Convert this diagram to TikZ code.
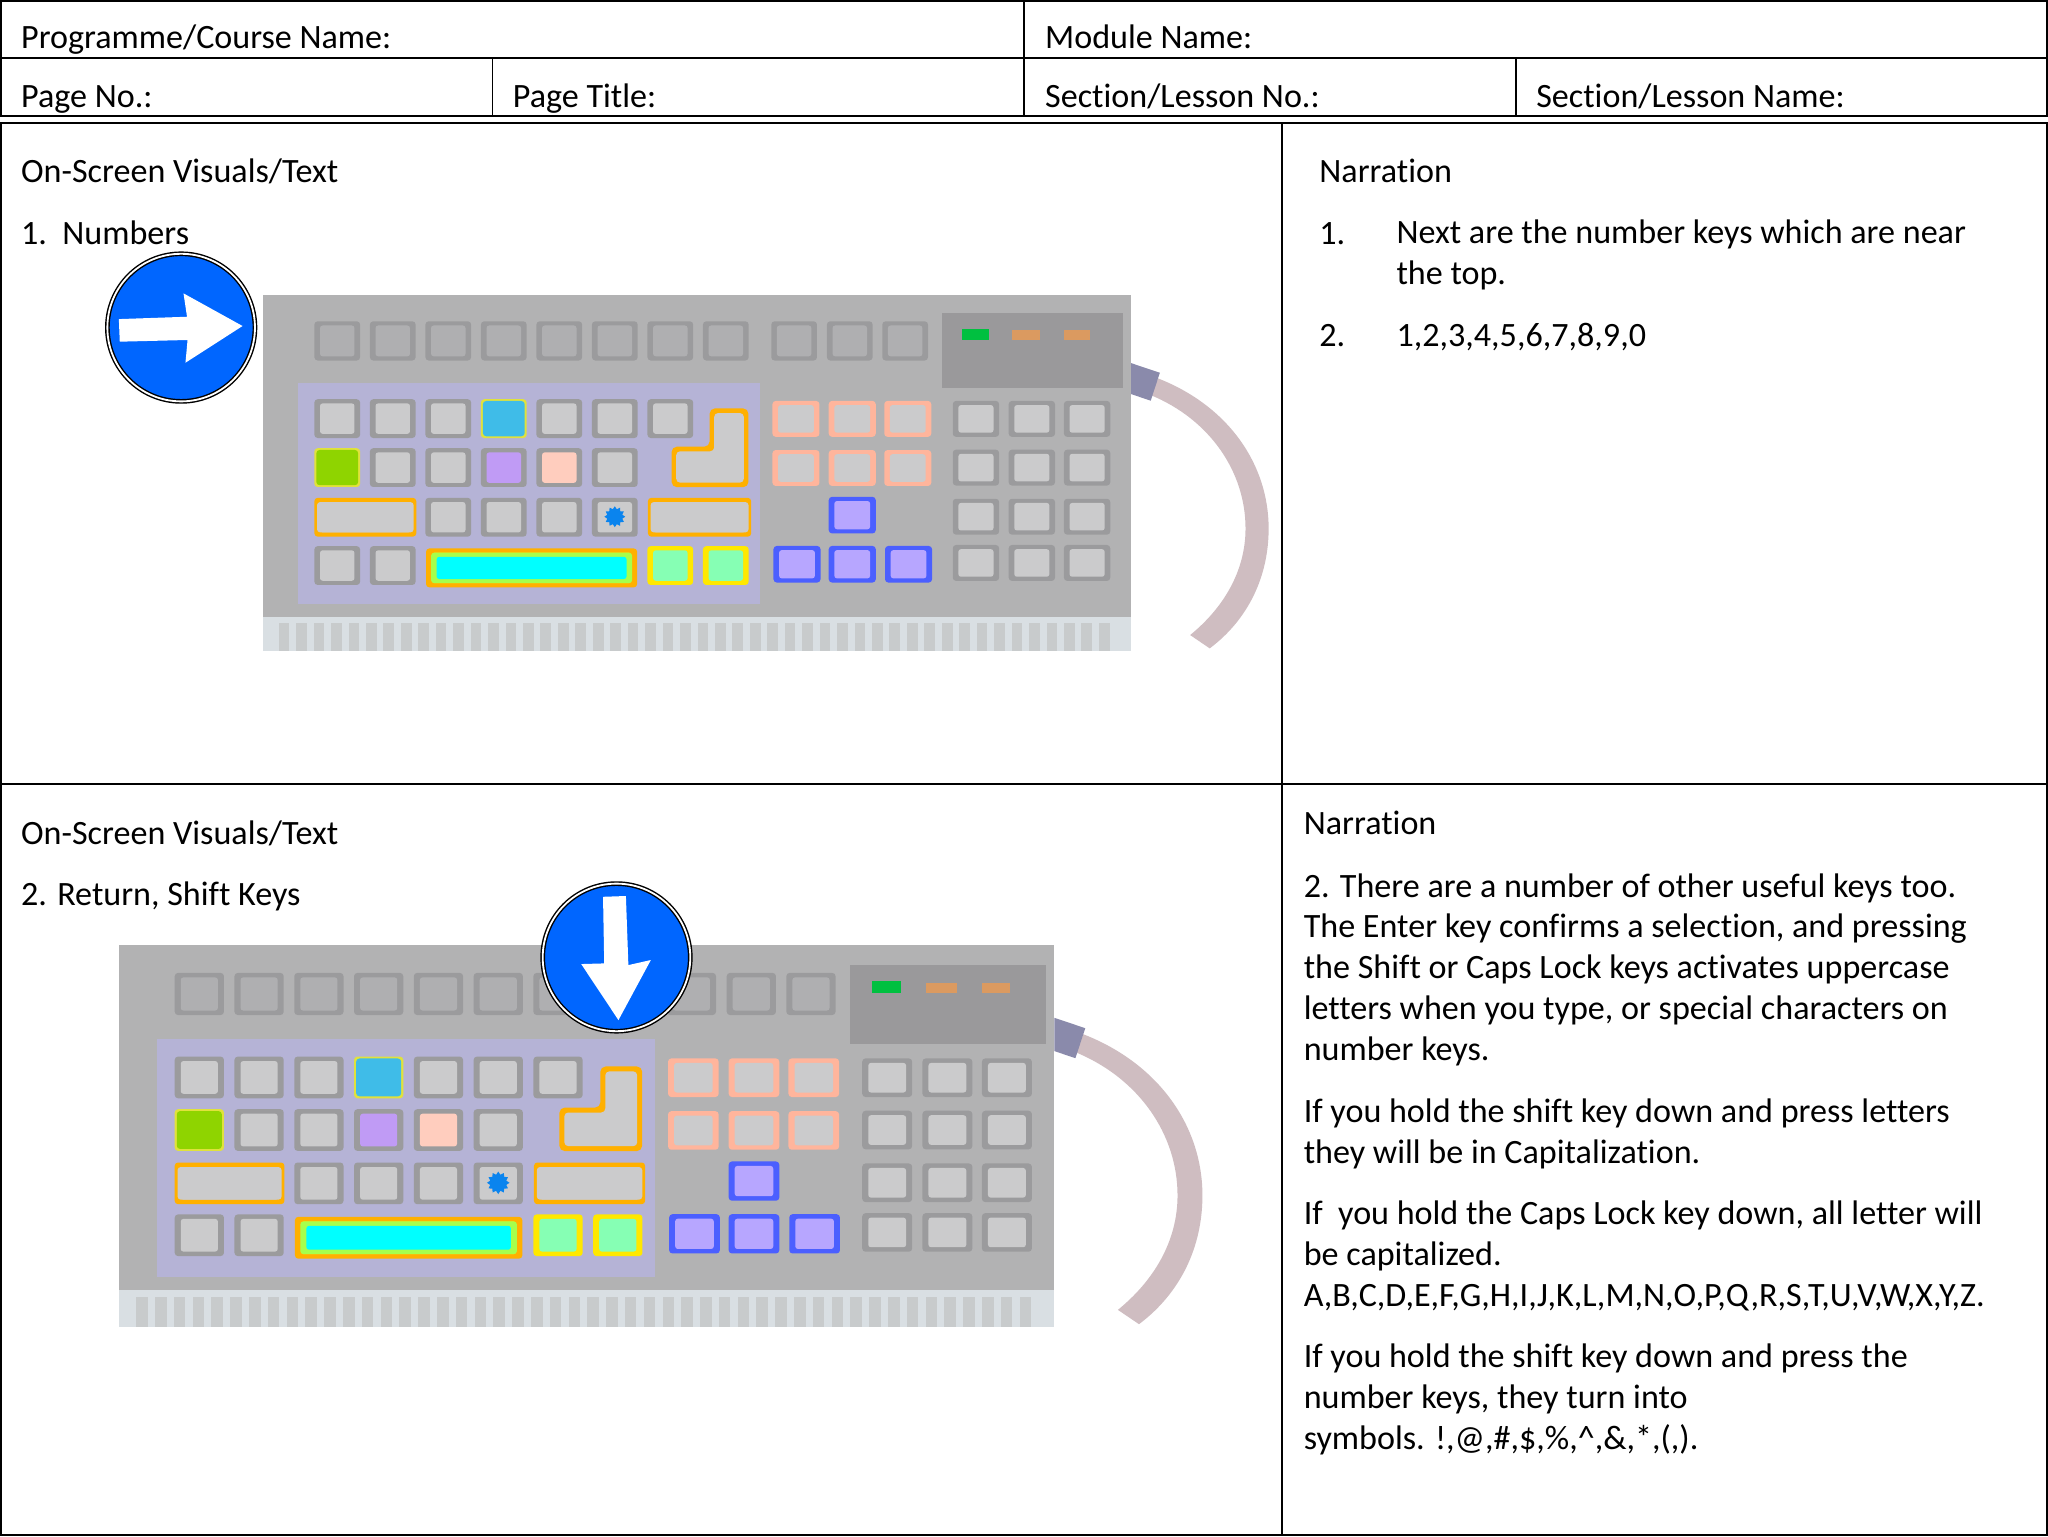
\documentclass[tikz,border=0pt]{standalone}
\usepackage{fontspec}
\setmainfont{Carlito}[Ligatures=CommonOff]
\usetikzlibrary{shapes.geometric}
\definecolor{bodygrey}{HTML}{B2B2B3}
\definecolor{stripgrey}{HTML}{D9DFE3}
\definecolor{tinegrey}{HTML}{C8CBCC}
\definecolor{panelblue}{HTML}{B5B3D6}
\definecolor{rimgrey}{HTML}{9B9B9D}
\definecolor{facegrey}{HTML}{CBCBCC}
\definecolor{topface}{HTML}{AFAFB1}
\definecolor{ledbox}{HTML}{9A999B}
\definecolor{ledgreen}{HTML}{00C040}
\definecolor{ledorange}{HTML}{DB9A60}
\definecolor{rimorange}{HTML}{FFB000}
\definecolor{rimyellow}{HTML}{FFE800}
\definecolor{rimlime}{HTML}{E0E23C}
\definecolor{rimpeach}{HTML}{FFB59C}
\definecolor{rimblue}{HTML}{4B5FFF}
\definecolor{faceblue}{HTML}{3FBCE8}
\definecolor{facegreen}{HTML}{8FD400}
\definecolor{facelilac}{HTML}{C09BF5}
\definecolor{facepeach}{HTML}{FFCDBE}
\definecolor{facemint}{HTML}{86FFB4}
\definecolor{facepurple}{HTML}{B7A6FF}
\definecolor{facecyan}{HTML}{00FFFF}
\definecolor{glowgreen}{HTML}{A6FF4C}
\definecolor{starblue}{HTML}{0A84EE}
\definecolor{cablepink}{HTML}{CFBDC1}
\definecolor{plugblue}{HTML}{8A8AAB}
\definecolor{signblue}{HTML}{0066FF}
\tikzset{
	rule/.style={draw=black, line width=1.4pt},
	label/.style={anchor=base west, inner sep=0pt, align=left, font=\fontsize{26.1}{31.3}\selectfont},
	signdisc/.style={circle, fill=signblue, draw=black, double=white, double distance=1.4pt, line width=1.1pt, minimum size=113pt, inner sep=0pt},
	signarrow/.style={fill=white},
	keyspark/.style={star, star points=12, star point ratio=1.35, fill=starblue, inner sep=0pt, minimum size=16pt, transform shape}
}
% centre x, centre y, width, height, rim, face
\newcommand{\keycap}[6]{
	\fill[#5, rounded corners=2.5pt] (#1-#3/2,#2-#4/2) rectangle (#1+#3/2,#2+#4/2);
	\fill[#6, rounded corners=2pt] (#1-#3/2+4.3,#2-#4/2+3.2) rectangle (#1+#3/2-4.3,#2+#4/2-3.2);
}
% drawn at its own origin, top left corner of the case
\newcommand{\keyboard}{
	\fill[cablepink] (685.6,63.7) .. controls (740,85) and (770.3,130) .. (770.3,178.6)
		.. controls (770.3,215) and (755,248) .. (725.2,270.4) -- (710.2,260.2)
		.. controls (735,240) and (752.6,212) .. (752.6,178.6)
		.. controls (752.6,135) and (725,95) .. (680,76.5) -- cycle;
	\fill[plugblue] (665,52) -- (687,59.4) -- (680,80.8) -- (665,75.7) -- cycle;
	\fill[bodygrey] (0,0) rectangle (665,246);
	\fill[stripgrey] (0,246) rectangle (665,272.5);
	\foreach \i in {0,...,47}
		\fill[tinegrey] (12.4+\i*13.36,251) rectangle (20.6+\i*13.36,272.5);
	\fill[panelblue] (27,67) rectangle (381,236.5);
	\fill[ledbox] (520,14) rectangle (659,71);
	\fill[ledgreen] (535.6,26) rectangle (556,34.4);
	\fill[ledorange] (574,27) rectangle (595.5,34.4);
	\fill[ledorange] (613.7,27) rectangle (633.7,34.4);
	% function row
	\foreach \x in {57.2,99.7,142.2,184.7,227.2,269.7,312.2,354.7,407,449.6,492}
		\keycap{\x}{35}{35}{30}{rimgrey}{topface};
	% main block
	\foreach \x in {57.2,99.7,142.2,227.2,269.7,312.2}
		\keycap{\x}{94.5}{35}{29.7}{rimgrey}{facegrey};
	\keycap{184.7}{94.5}{35}{29.7}{rimlime}{faceblue};
	\keycap{184.7}{94.5}{32}{27}{faceblue}{faceblue};
	\keycap{57.2}{132}{35}{29.7}{rimlime}{facegreen};
	\keycap{57.2}{132}{32}{27}{facegreen}{facegreen};
	\foreach \x in {99.7,142.2,269.7}
		\keycap{\x}{132}{35}{29.7}{rimgrey}{facegrey};
	\keycap{184.7}{132}{35}{29.7}{rimgrey}{facelilac};
	\keycap{227.2}{132}{35}{29.7}{rimgrey}{facepeach};
	\foreach \x in {142.2,184.7,227.2,269.7}
		\keycap{\x}{170}{35}{29.7}{rimgrey}{facegrey};
	\node[keyspark] (spark) at (269.7,169.6) {};
	\keycap{78.7}{170}{78}{29.7}{rimorange}{facegrey};
	\keycap{78.7}{170}{74}{23.3}{facegrey}{facegrey};
	\keycap{334.6}{170}{79}{29.7}{rimorange}{facegrey};
	\keycap{334.6}{170}{75}{23.3}{facegrey}{facegrey};
	\foreach \x in {57.2,99.7}
		\keycap{\x}{207}{35}{29.7}{rimgrey}{facegrey};
	\keycap{206}{208.8}{161.6}{29.8}{rimorange}{rimyellow};
	\keycap{206}{208.8}{154}{23.4}{glowgreen}{facecyan};
	\foreach \x in {312.2,354.7}
		\keycap{\x}{207}{35}{29.7}{rimyellow}{facemint};
	% return key
	\fill[rimorange, rounded corners=4pt] (342.3,86.7) -- (372,86.7) -- (372,147) -- (313.2,147) -- (313.2,116) -- (342.3,116) -- cycle;
	\fill[facegrey, rounded corners=3pt] (345.8,90.2) -- (368.5,90.2) -- (368.5,143.5) -- (316.7,143.5) -- (316.7,119.5) -- (345.8,119.5) -- cycle;
	% cursor block
	\foreach \y in {94.7,132.3}
		\foreach \x in {408.4,451.5,494}
			\keycap{\x}{\y}{36}{27.5}{rimpeach}{facegrey};
	\keycap{451.5}{168.4}{36}{28}{rimblue}{facepurple};
	\foreach \x in {409.2,451.5,494.6}
		\keycap{\x}{206}{36}{28}{rimblue}{facepurple};
	% number pad
	\foreach \y in {94.7,132,169.6,205}
		\foreach \x in {546.2,589,631.3}
			\keycap{\x}{\y}{35.5}{27.5}{rimgrey}{facegrey};
}

\begin{document}
\begin{tikzpicture}[x=1pt,y=-1pt]
	\useasboundingbox (0,0) rectangle (1568,1176);
	\fill[white] (0,0) rectangle (1568,1176);

	\begin{scope}[shift={(201,226)}]
		\keyboard
	\end{scope}
	\begin{scope}[shift={(91,723.4)}, xscale=1.077, yscale=1.074]
		\keyboard
	\end{scope}

	\node[signdisc] (signOne) at (138.7,250.8) {};
	\fill[signarrow] (91,244.3) -- (143.2,242.5) -- (140.5,224.6) -- (185.7,249.6) -- (142,277.7) -- (143.6,260.3) -- (91.7,261.6) -- cycle;
	\node[signdisc] (signTwo) at (472,733) {};
	\fill[signarrow] (461.7,686.6) -- (479.2,686) -- (481.1,738.9) -- (498.3,735) -- (473.5,781) -- (445,738.1) -- (462.6,737.6) -- cycle;

	% table rules
	\draw[rule] (0,0.5) -- (1568,0.5);
	\draw[rule] (0,44.5) -- (1568,44.5);
	\draw[rule] (0,89) -- (1568,89);
	\draw[rule, line width=1.9pt] (0,94) -- (1568,94);
	\draw[rule] (0,600.5) -- (1568,600.5);
	\draw[rule] (0,1175.5) -- (1568,1175.5);
	\draw[rule] (0.5,0) -- (0.5,89);
	\draw[rule] (0.5,94) -- (0.5,1176);
	\draw[rule] (1567.5,0) -- (1567.5,89);
	\draw[rule] (1567.5,94) -- (1567.5,1176);
	\draw[rule] (784,0) -- (784,89);
	\draw[rule] (377,44.5) -- (377,89);
	\draw[rule] (1160.5,44.5) -- (1160.5,89);
	\draw[rule] (981.5,94) -- (981.5,1176);

	\node[label] (programme) at (16,37.5) {Programme/Course Name:};
	\node[label] (module) at (800,37.5) {Module Name:};
	\node[label] (pageNo) at (16,82.5) {Page No.:};
	\node[label] (pageTitle) at (392.5,82.5) {Page Title:};
	\node[label] (sectionNo) at (800,82.5) {Section/Lesson No.:};
	\node[label] (sectionName) at (1176,82.5) {Section/Lesson Name:};

	\node[label] (visualsOne) at (16,140) {On-Screen Visuals/Text};
	\node[label] (numbers) at (16,187) {1.\ \ Numbers};
	\node[label] (visualsTwo) at (16,646.5) {On-Screen Visuals/Text};
	\node[label] (returnShift) at (16,693.5) {2. Return, Shift Keys};

	\node[label] (narrationOne) at (1010,140) {Narration};
	\node[label] (markOne) at (1010,187) {1.};
	\node[label, anchor=north west] (nextKeys) at (1069,168) {Next are the number keys which are near\\the top.};
	\node[label] (markTwo) at (1010,265.5) {2.};
	\node[label] (digits) at (1069,265.5) {1,2,3,4,5,6,7,8,9,0};

	\node[label] (narrationTwo) at (998,639) {Narration};
	\node[label, anchor=north west] (otherKeys) at (998,668.5) {2. There are a number of other useful keys too.\\The Enter key confirms a selection, and pressing\\the Shift or Caps Lock keys activates uppercase\\letters when you type, or special characters on\\number keys.};
	\node[label, anchor=north west] (shiftLetters) at (998,841) {If you hold the shift key down and press letters\\they will be in Capitalization.};
	\node[label, anchor=north west] (capsLock) at (998,919) {If\ \ you hold the Caps Lock key down, all letter will\\be capitalized.\\A,B,C,D,E,F,G,H,I,J,K,L,M,N,O,P,Q,R,S,T,U,V,W,X,Y,Z.};
	\node[label, anchor=north west] (shiftNumbers) at (998,1029) {If you hold the shift key down and press the\\number keys, they turn into\\symbols. !,@,\#,\$,\%,\textasciicircum,\&,*,(,).};
\end{tikzpicture}
\end{document}
